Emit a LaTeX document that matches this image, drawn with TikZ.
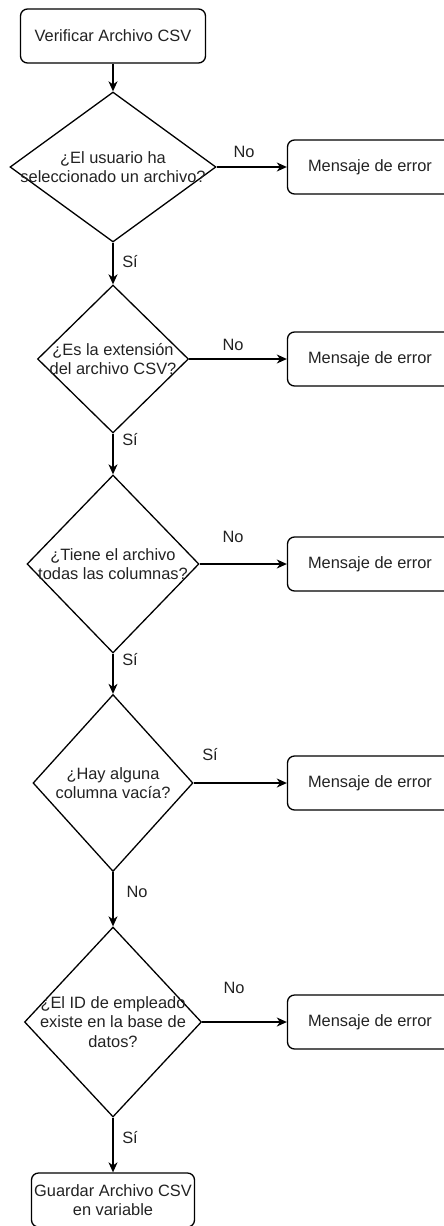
\documentclass[tikz,border=0pt]{standalone}
\usepackage{fontspec}
\setmainfont{Liberation Sans}
\usetikzlibrary{shapes.geometric,arrows.meta}
\definecolor{ink}{HTML}{222222}
\begin{document}
\begin{tikzpicture}[x=1pt,y=-1pt,
  every node/.style={font=\fontsize{16.4}{19.5}\selectfont, text=ink},
  proc/.style={draw=black, line width=1.3pt, rounded corners=7pt,
    minimum height=54pt, align=center, inner sep=0pt},
  dec/.style={draw=black, diamond, line width=1.3pt, inner sep=0pt},
  txt/.style={align=center, inner sep=0pt},
  flow/.style={draw=black, line width=1.3pt,
    -{Stealth[length=10pt,width=9pt,inset=3pt]}},
  lbl/.style={inner sep=0pt}
]
\useasboundingbox (0,0) rectangle (444,1226);

% start and end steps
\node[proc, minimum width=185pt] (start) at (113,36) {Verificar Archivo CSV};
\node[proc, minimum width=163pt] (save) at (113,1200) {Guardar Archivo CSV\\en variable};

% decisions
\node[dec, minimum width=206pt, minimum height=150pt] (q1) at (113,167) {};
\node[txt] at (q1.center) {¿El usuario ha\\seleccionado un archivo?};
\node[dec, minimum width=151pt, minimum height=148pt] (q2) at (113,359) {};
\node[txt] at (q2.center) {¿Es la extensión\\del archivo CSV?};
\node[dec, minimum width=172pt, minimum height=178pt] (q3) at (113,564) {};
\node[txt] at (q3.center) {¿Tiene el archivo\\todas las columnas?};
\node[dec, minimum width=160pt, minimum height=177pt] (q4) at (113,783) {};
\node[txt] at (q4.center) {¿Hay alguna\\columna vacía?};
\node[dec, minimum width=177pt, minimum height=190pt] (q5) at (113,1022) {};
\node[txt] at (q5.center) {¿El ID de empleado\\existe en la base de\\datos?};

% error messages
\node[proc, minimum width=165pt] (e1) at (370,167) {Mensaje de error};
\node[proc, minimum width=165pt] (e2) at (370,359) {Mensaje de error};
\node[proc, minimum width=165pt] (e3) at (370,564) {Mensaje de error};
\node[proc, minimum width=165pt] (e4) at (370,783) {Mensaje de error};
\node[proc, minimum width=165pt] (e5) at (370,1022) {Mensaje de error};

% main flow
\draw[flow] (start.south) -- (q1.north);
\draw[flow] (q1.south) -- (q2.north);
\draw[flow] (q2.south) -- (q3.north);
\draw[flow] (q3.south) -- (q4.north);
\draw[flow] (q4.south) -- (q5.north);
\draw[flow] (q5.south) -- (save.north);

% error branches
\draw[flow] (q1.east) -- (q1.east -| e1.west);
\draw[flow] (q2.east) -- (q2.east -| e2.west);
\draw[flow] (q3.east) -- (q3.east -| e3.west);
\draw[flow] (q4.east) -- (q4.east -| e4.west);
\draw[flow] (q5.east) -- (q5.east -| e5.west);

% branch labels
\node[lbl] (l1) at (244,152) {No};
\node[lbl] (l2) at (233,345) {No};
\node[lbl] (l3) at (233,537) {No};
\node[lbl] (l4) at (210,755) {Sí};
\node[lbl] (l5) at (234,988) {No};
\node[lbl] (s1) at (130,262) {Sí};
\node[lbl] (s2) at (130,440) {Sí};
\node[lbl] (s3) at (130,660) {Sí};
\node[lbl] (s4) at (137,892) {No};
\node[lbl] (s5) at (130,1138) {Sí};
\end{tikzpicture}
\end{document}
